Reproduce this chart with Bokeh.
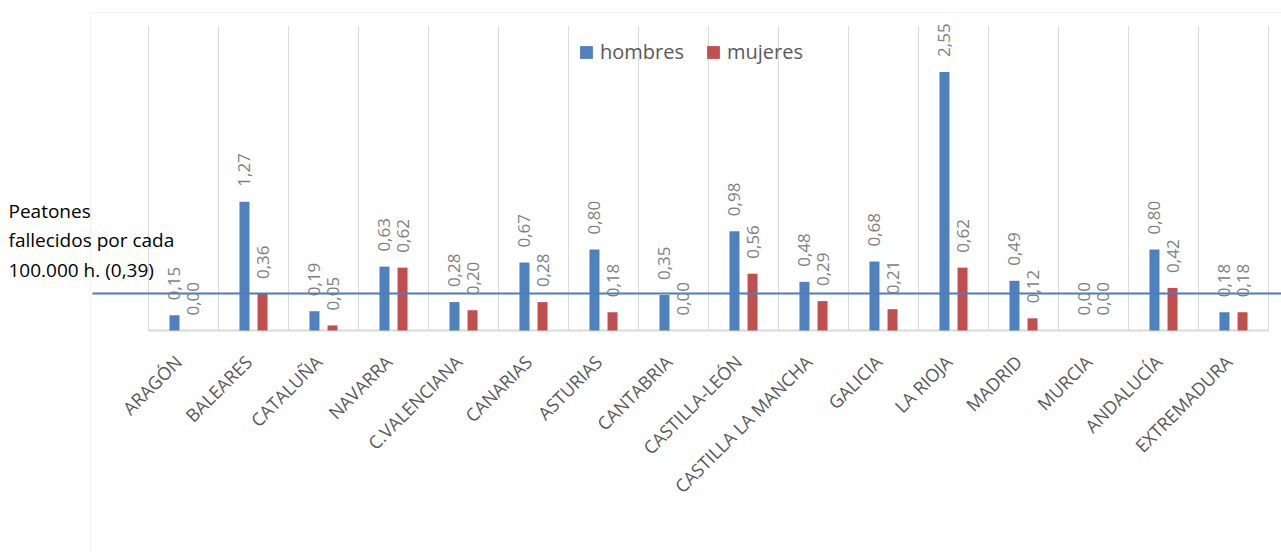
import math
from bokeh.plotting import figure
from bokeh.models import (ColumnDataSource, Range1d, Label, Legend, LegendItem,
                          BoxAnnotation)
from bokeh.transform import dodge
from bokeh.core.properties import value
from bokeh.embed import file_html
from bokeh.resources import INLINE

# ---------------- data ----------------
categorias = ["ARAGÓN", "BALEARES", "CATALUÑA", "NAVARRA", "C.VALENCIANA", "CANARIAS",
              "ASTURIAS", "CANTABRIA", "CASTILLA-LEÓN", "CASTILLA LA MANCHA", "GALICIA",
              "LA RIOJA", "MADRID", "MURCIA", "ANDALUCÍA", "EXTREMADURA"]
hombres = [0.15, 1.27, 0.19, 0.63, 0.28, 0.67, 0.80, 0.35, 0.98, 0.48, 0.68, 2.55, 0.49, 0.00, 0.80, 0.18]
mujeres = [0.00, 0.36, 0.05, 0.62, 0.20, 0.28, 0.18, 0.00, 0.56, 0.29, 0.21, 0.62, 0.12, 0.00, 0.42, 0.18]
series = ["hombres", "mujeres"]
colores = ["#4F81BD", "#C0504D"]
nota_lineas = ["Peatones", "fallecidos por cada", "100.000 h. (0,39)"]
media_linea = 0.365   # position of the reference line as drawn
eje_max = 3.0

FONT = "Open Sans"

# ---------------- layout (pixels) ----------------
W, H = 1281, 552
CAT0 = 148      # x of first category boundary
BASE = 330      # y of the zero line
PX_X = 70.0     # pixels per category
PX_Y = 101.4    # pixels per unit
AREA_L, AREA_T = 90, 12   # chart-area border


def fmt(v):
    return f"{v:.2f}".replace(".", ",")


n = len(categorias)
src = ColumnDataSource(dict(
    pos=[i + 0.5 for i in range(n)],
    cat=categorias,
    h=hombres, m=mujeres,
    hl=[fmt(v) for v in hombres], ml=[fmt(v) for v in mujeres],
))

p = figure(width=W, height=H, output_backend="svg", toolbar_location=None,
           x_range=Range1d(-CAT0 / PX_X, (W - CAT0) / PX_X),
           y_range=Range1d((BASE - H) / PX_Y, BASE / PX_Y),
           x_axis_location=None, y_axis_location=None,
           min_border_left=0, min_border_right=0, min_border_top=0, min_border_bottom=0)
p.grid.visible = False
p.outline_line_color = None
p.background_fill_color = "white"
p.border_fill_color = "white"

# chart-area border (left and top edges visible)
p.add_layout(BoxAnnotation(left=(AREA_L - CAT0) / PX_X, right=1000,
                           top=(BASE - AREA_T) / PX_Y, bottom=-1000,
                           fill_alpha=0, line_color="#d9d9d9", line_width=1,
                           level="underlay"))

# vertical category separators and base line
bounds = list(range(n + 1))
p.segment(x0=bounds, y0=[0] * (n + 1), x1=bounds, y1=[eje_max] * (n + 1),
          line_color="#d9d9d9", line_width=1)
p.segment(x0=[0], y0=[0], x1=[n], y1=[0], line_color="#d9d9d9", line_width=2)

off = 0.129
bw = 10 / PX_X
rh = p.vbar(x=dodge("pos", -off, range=p.x_range), top="h", width=bw, source=src,
            fill_color=colores[0], line_color=None)
rm = p.vbar(x=dodge("pos", off, range=p.x_range), top="m", width=bw, source=src,
            fill_color=colores[1], line_color=None)

# reference line
p.segment(x0=[(AREA_L + 2 - CAT0) / PX_X], y0=[media_linea],
          x1=[(W - CAT0) / PX_X + 1], y1=[media_linea],
          line_color="#4A7EBB", line_width=2)

for col, lab, d in (("h", "hl", -off), ("m", "ml", off)):
    p.text(x=dodge("pos", d, range=p.x_range), y=col, text=lab, source=src,
           angle=math.pi / 2, text_align="left", text_baseline="middle",
           y_offset=-15, text_font=value(FONT), text_font_size="17px",
           text_color="#7f7f7f")

# category labels
p.text(x="pos", y=0, text="cat", source=src, angle=math.pi / 4,
       text_align="right", text_baseline="middle", x_offset=-5, y_offset=28,
       text_font=value(FONT), text_font_size="18px", text_color="#595959")

# note text
for k, t in enumerate(nota_lineas):
    p.add_layout(Label(x=8, y=H - 210 - 29.5 * k, x_units="screen", y_units="screen",
                       text=t, text_font=FONT, text_font_size="19px",
                       text_color="black", text_baseline="alphabetic"))

legend = Legend(items=[LegendItem(label=series[0], renderers=[rh]),
                       LegendItem(label=series[1], renderers=[rm])],
                orientation="horizontal", location=(578, 487),
                border_line_color=None, background_fill_alpha=0,
                padding=0, margin=0, spacing=21, glyph_width=16, glyph_height=16,
                label_standoff=6, label_text_font=FONT, label_text_font_size="20px",
                label_text_color="#595959")
p.add_layout(legend)

open("out.html", "w").write(file_html(p, INLINE))
